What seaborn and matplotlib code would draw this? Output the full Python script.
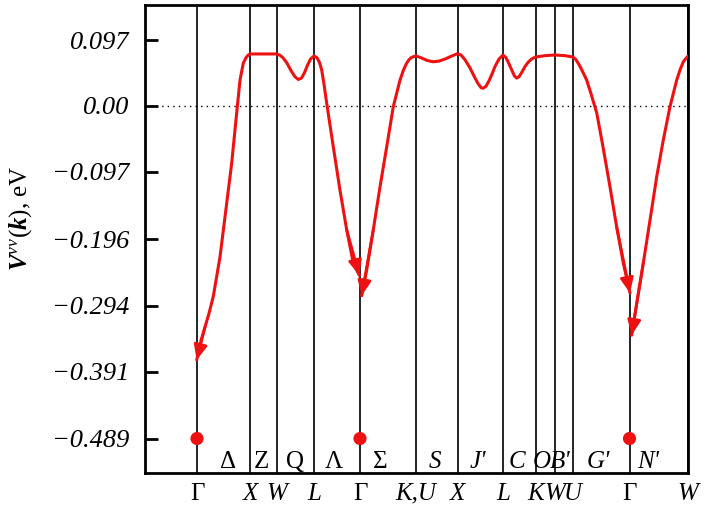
import numpy as np
import pandas as pd
import matplotlib
matplotlib.use("Agg")
import matplotlib.pyplot as plt
import seaborn as sns

# k-point positions along the path (arbitrary path units)
kpos = [52, 105, 131.5, 169, 215, 271, 312.5, 358, 390.5, 410, 428, 484.5, 543]
klabels = ["Γ", "X", "W", "L", "Γ", "K,U", "X", "L", "K", "W", "U", "Γ", "W"]
x_max = 543

# segment labels
seg_pos = [83, 116, 150, 189, 235, 290, 333, 372, 397, 415, 453, 503]
seg_labels = ["Δ", "Z", "Q", "Λ", "Σ", "S", "J'", "C", "O", "B'", "G'", "N'"]
seg_italic = [False, False, False, False, False, True, True, True, True, True, True, True]

# y ticks
yticks = [0.097, 0.0, -0.097, -0.196, -0.294, -0.391, -0.489]
ytick_labels = ["0.097", "0.00", "\u22120.097", "\u22120.196", "\u22120.294", "\u22120.391", "\u22120.489"]

# branch 1: Gamma -> X -> W -> L -> Gamma
b1_x = [51.7, 53.5, 56, 60, 64, 68.3, 75, 81.7, 86.7, 91.7, 95, 98.3, 101, 103.3, 105, 118, 131.5, 134.5,
        138, 142, 146, 150, 153.3, 156.5, 159.5, 162.5, 165.5, 169, 172, 174.5, 176.7, 179, 181.7, 188.3,
        195, 201.7, 208.3, 214.3]
b1_y = [-0.3735, -0.362, -0.345, -0.325, -0.305, -0.280, -0.222, -0.143, -0.084, -0.010, 0.038, 0.063,
        0.071, 0.075, 0.0765, 0.0765, 0.0765, 0.075, 0.071, 0.063, 0.052, 0.043, 0.039, 0.041, 0.049,
        0.060, 0.069, 0.0735, 0.071, 0.064, 0.053, 0.032, 0.004, -0.060, -0.124, -0.182, -0.231, -0.249]

# branch 2: Gamma -> K,U -> X -> L -> K -> W -> U -> Gamma
b2_x = [216.7, 221.7, 228.3, 235, 241.7, 248.3, 255, 258.5, 261.7, 264, 266, 268.5, 271, 276, 282, 288,
        294, 300, 306, 312.5, 316, 320, 325, 329, 333, 336, 338, 341, 344, 347, 350, 354, 358, 361, 364,
        367, 369.5, 371.7, 374, 377, 380, 383, 386.5, 390.5, 400, 410, 420, 428, 431, 434, 437.5, 441.7,
        446, 451.7, 458, 465, 471.7, 478.3, 485]
b2_y = [-0.279, -0.241, -0.182, -0.119, -0.060, -0.001, 0.038, 0.053, 0.063, 0.068, 0.071, 0.0725, 0.0735,
        0.071, 0.067, 0.065, 0.066, 0.069, 0.073, 0.077, 0.075, 0.068, 0.056, 0.044, 0.033, 0.027, 0.026,
        0.029, 0.037, 0.047, 0.058, 0.069, 0.075, 0.071, 0.062, 0.052, 0.044, 0.041, 0.043, 0.050, 0.058,
        0.064, 0.069, 0.072, 0.074, 0.075, 0.074, 0.072, 0.068, 0.061, 0.051, 0.038, 0.018, -0.010,
        -0.060, -0.119, -0.178, -0.231, -0.275]

# branch 3: Gamma -> W
b3_x = [486.7, 491.7, 498.3, 505, 511.7, 518.3, 525, 531.7, 535, 538.3, 541, 543]
b3_y = [-0.337, -0.290, -0.231, -0.168, -0.104, -0.050, -0.001, 0.038, 0.053, 0.065, 0.070, 0.0735]

gamma_x = [52, 215, 484.5]
gamma_y = [-0.489, -0.489, -0.489]

sns.set_theme(style="white")
plt.rcParams["font.family"] = ["Liberation Serif", "DejaVu Serif"]
plt.rcParams["mathtext.fontset"] = "custom"
plt.rcParams["mathtext.rm"] = "Liberation Serif"
plt.rcParams["mathtext.it"] = "Liberation Serif:italic"
plt.rcParams["mathtext.bf"] = "Liberation Serif:italic:bold"

fig = plt.figure(figsize=(7.07, 5.17), dpi=100)
ax = fig.add_axes([145 / 707, 1 - 473 / 517, (688 - 145) / 707, (473 - 5) / 517])

ax.set_xlim(0, x_max)
ax.set_ylim(-0.5397, 0.1485)

# vertical k-point lines
for xp in kpos:
    ax.axvline(xp, color="black", lw=1.2, zorder=1)
# zero line
ax.axhline(0.0, color="black", lw=1.0, ls=(0, (1, 3)), zorder=1)

red = "#ee1111"
for bx, by in [(b1_x, b1_y), (b2_x, b2_y), (b3_x, b3_y)]:
    df = pd.DataFrame({"k": bx, "v": by})
    sns.lineplot(data=df, x="k", y="v", sort=False, color=red, lw=2.2, ax=ax, zorder=3)

# arrows toward Gamma points
arrow_kw = dict(arrowstyle="-|>,head_length=0.45,head_width=0.2", color=red, lw=2.0,
                shrinkA=0, shrinkB=0, mutation_scale=20)
ax.annotate("", xy=(b1_x[0], b1_y[0]), xytext=(b1_x[3], b1_y[3]), arrowprops=arrow_kw, zorder=4)
ax.annotate("", xy=(b1_x[-1], b1_y[-1]), xytext=(b1_x[-3], b1_y[-3]), arrowprops=arrow_kw, zorder=4)
ax.annotate("", xy=(b2_x[0], b2_y[0]), xytext=(b2_x[2], b2_y[2]), arrowprops=arrow_kw, zorder=4)
ax.annotate("", xy=(b2_x[-1], b2_y[-1]), xytext=(b2_x[-3], b2_y[-3]), arrowprops=arrow_kw, zorder=4)
ax.annotate("", xy=(b3_x[0], b3_y[0]), xytext=(b3_x[2], b3_y[2]), arrowprops=arrow_kw, zorder=4)

sns.scatterplot(x=gamma_x, y=gamma_y, color=red, s=90, edgecolor="none", ax=ax, zorder=5)

# segment labels
for xp, lab, it in zip(seg_pos, seg_labels, seg_italic):
    ax.text(xp, -0.523, lab, ha="center", va="center", fontsize=18,
            style="italic" if it else "normal", color="black", zorder=6)

# axes styling
for s in ax.spines.values():
    s.set_color("black")
    s.set_linewidth(2.0)

ax.set_yticks(yticks)
ax.set_yticklabels(ytick_labels, fontsize=19, style="italic")
ax.tick_params(axis="y", direction="in", length=9, width=2, colors="black", pad=11, left=True)

ax.set_xticks(kpos)
ax.set_xticklabels(klabels, fontsize=18)
ax.tick_params(axis="x", length=0, pad=7, colors="black")
for lab in ax.get_xticklabels():
    if lab.get_text() != "Γ":
        lab.set_style("italic")

ax.set_xlabel("")
ax.set_ylabel(r"$\mathbf{V}^{\mathit{vv}}(\mathbf{k})$, eV", fontsize=18, color="black")
ax.yaxis.set_label_coords(-0.205, 0.545)

fig.savefig("out.png", dpi=100)
